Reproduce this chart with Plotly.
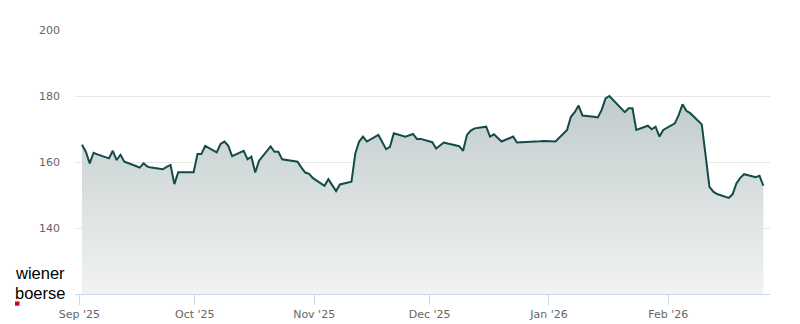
import plotly.graph_objects as go

# ---- data ----
dates_sep = ["2025-09-01", "2025-09-02", "2025-09-03", "2025-09-04", "2025-09-05", "2025-09-08",
             "2025-09-09", "2025-09-10", "2025-09-11", "2025-09-12", "2025-09-15", "2025-09-16",
             "2025-09-17", "2025-09-18", "2025-09-19", "2025-09-22", "2025-09-23", "2025-09-24",
             "2025-09-25", "2025-09-26", "2025-09-29", "2025-09-30"]
close_sep = [165.2, 163.1, 159.6, 162.8, 162.3, 161.1, 163.4, 160.6, 162.2, 160.1, 158.8, 158.3,
             159.6, 158.6, 158.3, 157.8, 158.5, 159.1, 153.3, 156.9, 156.9, 156.9]

dates_oct = ["2025-10-01", "2025-10-02", "2025-10-03", "2025-10-06", "2025-10-07", "2025-10-08",
             "2025-10-09", "2025-10-10", "2025-10-13", "2025-10-14", "2025-10-15", "2025-10-16",
             "2025-10-17", "2025-10-20", "2025-10-21", "2025-10-22", "2025-10-23", "2025-10-24",
             "2025-10-27", "2025-10-28", "2025-10-29", "2025-10-30", "2025-10-31"]
close_oct = [162.4, 162.4, 164.9, 162.9, 165.5, 166.2, 164.9, 161.8, 163.4, 160.8, 161.6, 156.8,
             160.4, 164.7, 163.1, 163.1, 160.8, 160.6, 160.1, 158.3, 156.8, 156.4, 155.1]

dates_nov = ["2025-11-03", "2025-11-04", "2025-11-05", "2025-11-06", "2025-11-07", "2025-11-10",
             "2025-11-11", "2025-11-12", "2025-11-13", "2025-11-14", "2025-11-17", "2025-11-18",
             "2025-11-19", "2025-11-20", "2025-11-21", "2025-11-24", "2025-11-25", "2025-11-26",
             "2025-11-27", "2025-11-28"]
close_nov = [152.8, 154.8, 153.0, 151.2, 153.2, 154.0, 162.6, 166.2, 167.7, 166.2, 168.2, 166.2,
             163.9, 164.6, 168.7, 167.7, 168.0, 168.5, 167.0, 167.0]

dates_dec = ["2025-12-01", "2025-12-02", "2025-12-03", "2025-12-04", "2025-12-05", "2025-12-08",
             "2025-12-09", "2025-12-10", "2025-12-11", "2025-12-12", "2025-12-15", "2025-12-16",
             "2025-12-17", "2025-12-18", "2025-12-19", "2025-12-22", "2025-12-23", "2025-12-29",
             "2025-12-30"]
close_dec = [166.0, 164.1, 165.0, 165.9, 165.6, 164.8, 163.4, 168.2, 169.5, 170.2, 170.7, 167.7,
             168.4, 167.2, 166.2, 167.7, 165.9, 166.3, 166.4]

dates_jan = ["2026-01-02", "2026-01-05", "2026-01-06", "2026-01-07", "2026-01-08", "2026-01-09",
             "2026-01-12", "2026-01-13", "2026-01-14", "2026-01-15", "2026-01-16", "2026-01-19",
             "2026-01-20", "2026-01-21", "2026-01-22", "2026-01-23", "2026-01-26", "2026-01-27",
             "2026-01-28", "2026-01-29", "2026-01-30"]
close_jan = [166.2, 169.7, 173.7, 175.1, 177.1, 174.1, 173.7, 173.5, 175.8, 179.3, 180.0, 176.3,
             175.1, 176.3, 176.3, 169.7, 171.0, 169.9, 170.7, 167.7, 169.7]

dates_feb = ["2026-02-02", "2026-02-03", "2026-02-04", "2026-02-05", "2026-02-06", "2026-02-09",
             "2026-02-10", "2026-02-11", "2026-02-12", "2026-02-13", "2026-02-16", "2026-02-17",
             "2026-02-18", "2026-02-19", "2026-02-20", "2026-02-23", "2026-02-24", "2026-02-25"]
close_feb = [171.7, 174.2, 177.5, 175.5, 174.8, 171.4, 162.0, 152.5, 151.0, 150.3, 149.1, 150.2,
             153.5, 155.2, 156.3, 155.4, 155.8, 152.8]

close_time = "16:35"  # daily closing timestamp (UTC)

tick_dates = ["2025-09-01", "2025-10-01", "2025-11-01", "2025-12-01", "2026-01-01", "2026-02-01"]
tick_labels = ["Sep '25", "Oct '25", "Nov '25", "Dec '25", "Jan '26", "Feb '26"]
y_ticks = [140, 160, 180, 200]

# ---- build ----
dates = dates_sep + dates_oct + dates_nov + dates_dec + dates_jan + dates_feb
closes = close_sep + close_oct + close_nov + close_dec + close_jan + close_feb
x = [d + " " + close_time for d in dates]

fig = go.Figure()
fig.add_trace(go.Scatter(
    x=x, y=closes, mode="lines",
    line=dict(color="#114c46", width=2),
    fill="tozeroy",
    fillgradient=dict(type="vertical", start=120, stop=182,
                      colorscale=[[0, "#f2f3f3"], [1, "#bfcaca"]]),
    hoverinfo="skip",
))

tickfont = dict(family="DejaVu Sans", size=11, color="#666666")
fig.update_xaxes(
    type="date", range=["2025-08-30 21:00", "2026-02-27 10:00"],
    tickvals=tick_dates, ticktext=tick_labels,
    showgrid=False, zeroline=False,
    showline=True, linecolor="#ccd6eb", linewidth=1,
    ticks="outside", ticklen=10, tickcolor="#ccd6eb", tickwidth=1,
    tickfont=tickfont,
)
fig.update_yaxes(
    range=[120, 200], tickvals=y_ticks,
    showgrid=True, gridcolor="#e6e6e6", gridwidth=1,
    zeroline=False, showline=False,
    tickfont=tickfont, ticklabelstandoff=14,
)

W, H = 800, 324
ml, mr, mt, mb = 75, 30, 30, 30
pw, ph = W - ml - mr, H - mt - mb

def px_x(px):
    return (px - ml) / pw

def px_y(py):
    return (H - mb - py) / ph

logo_font = dict(family="Liberation Sans", size=16.5, color="#000000")
fig.add_annotation(text="wiener", xref="paper", yref="paper", x=px_x(14), y=px_y(282.5),
                   xanchor="left", yanchor="bottom", showarrow=False, font=logo_font,
                   borderpad=0)
fig.add_annotation(text="boerse", xref="paper", yref="paper", x=px_x(14), y=px_y(282.5),
                   xanchor="left", yanchor="top", showarrow=False, font=logo_font,
                   borderpad=0)
fig.add_shape(type="rect", xref="paper", yref="paper",
              x0=px_x(15), x1=px_x(19.5), y0=px_y(305.7), y1=px_y(301.5),
              fillcolor="#d0021b", line=dict(width=0), layer="above")

fig.update_layout(
    width=W, height=H,
    margin=dict(l=ml, r=mr, t=mt, b=mb, autoexpand=False),
    plot_bgcolor="#ffffff", paper_bgcolor="#ffffff",
    showlegend=False,
)

fig.write_html("out.html", config={"displayModeBar": False})
